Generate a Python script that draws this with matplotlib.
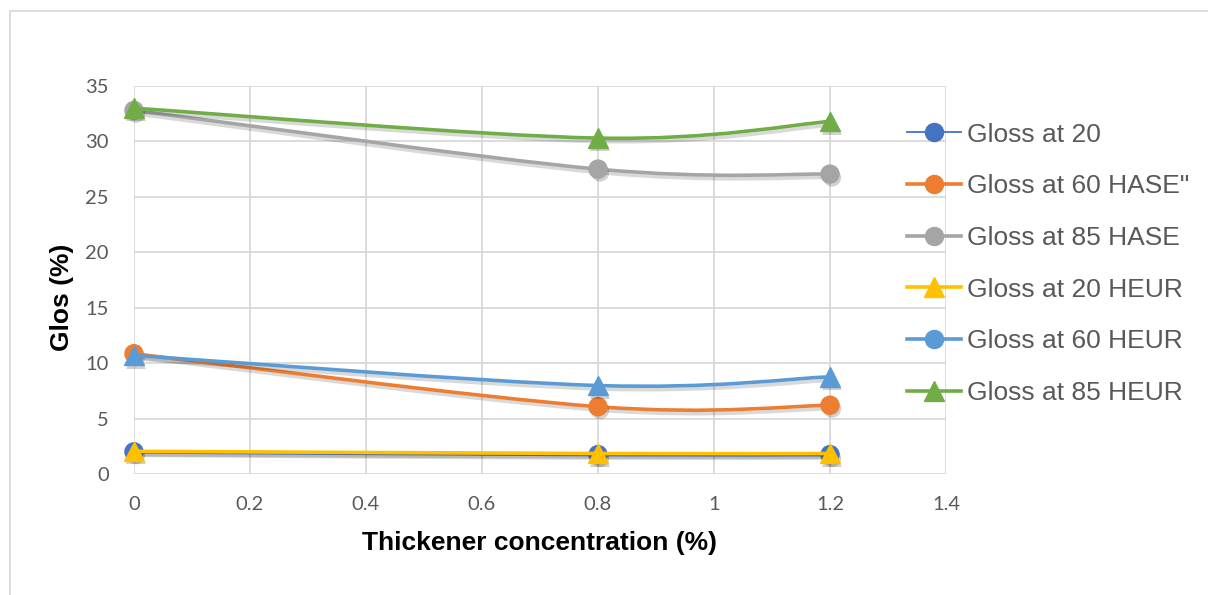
import numpy as np
import matplotlib
matplotlib.use("Agg")
import matplotlib.pyplot as plt
import matplotlib.patheffects as pe
from matplotlib.path import Path
from matplotlib.patches import PathPatch, Rectangle
from matplotlib.lines import Line2D

# thickener concentration (%)
conc = [0.0, 0.8, 1.2]

gloss_20 = [2.0, 1.75, 1.75]
gloss_60_hase = [10.85, 6.07, 6.2]
gloss_85_hase = [32.8, 27.5, 27.05]
gloss_20_heur = [2.05, 1.85, 1.85]
gloss_60_heur = [10.7, 7.98, 8.77]
gloss_85_heur = [33.0, 30.3, 31.8]

labels = ["Gloss at 20", "Gloss at 60 HASE\"", "Gloss at 85 HASE",
          "Gloss at 20 HEUR", "Gloss at 60 HEUR", "Gloss at 85 HEUR"]
series = [gloss_20, gloss_60_hase, gloss_85_hase,
          gloss_20_heur, gloss_60_heur, gloss_85_heur]
colors = ["#4472C4", "#ED7D31", "#A5A5A5", "#FFC000", "#5B9BD5", "#70AD47"]
markers = ["o", "o", "o", "^", "^", "^"]
legend_markers = ["o", "o", "o", "^", "o", "^"]

W, H = 1208, 595
fig = plt.figure(figsize=(W / 100, H / 100), dpi=100)
fig.patch.set_facecolor("white")

# chart border (top and left edges are inside the image)
fig.patches.append(Rectangle((10 / W, -0.1), 1.2, 1.1 - 11 / H,
                             transform=fig.transFigure, fill=False,
                             edgecolor="#D9D9D9", lw=1.3))

ax = fig.add_axes([134 / W, 1 - 474 / H, (946 - 134) / W, (474 - 86) / H])
ax.set_xlim(0, 1.4)
ax.set_ylim(0, 35)
ax.set_xticks(np.arange(0, 1.41, 0.2))
ax.set_yticks(range(0, 36, 5))
ax.set_xticklabels(["0", "0.2", "0.4", "0.6", "0.8", "1", "1.2", "1.4"])
ax.grid(True, color="#D9D9D9", lw=1.3)
ax.set_axisbelow(True)
for s in ax.spines.values():
    s.set_visible(False)
ax.tick_params(length=0, labelsize=14.5, labelcolor="#595959")
ax.tick_params(axis="y", pad=18)
ax.tick_params(axis="x", pad=16)
for t in ax.get_xticklabels() + ax.get_yticklabels():
    t.set_fontfamily("Lato")

line_shadow = [pe.SimpleLineShadow(offset=(1.5, -2.5), shadow_color="black", alpha=0.15),
               pe.Normal()]
marker_shadow = [pe.SimplePatchShadow(offset=(1.5, -2.5), shadow_rgbFace="black", alpha=0.18),
                 pe.Normal()]


def smooth_path(x, y):
    # Bezier segments with control points from neighbouring points
    pts = np.column_stack([x, y])
    n = len(pts)
    verts = [pts[0]]
    codes = [Path.MOVETO]
    for i in range(n - 1):
        p_prev = pts[max(i - 1, 0)]
        p_next = pts[min(i + 2, n - 1)]
        c1 = pts[i] + (pts[i + 1] - p_prev) / 6
        c2 = pts[i + 1] - (p_next - pts[i]) / 6
        verts += [c1, c2, pts[i + 1]]
        codes += [Path.CURVE4] * 3
    return Path(verts, codes)


for k, (vals, col, mk) in enumerate(zip(series, colors, markers)):
    ax.add_patch(PathPatch(smooth_path(conc, vals), fill=False, edgecolor=col,
                           lw=2.6, capstyle="round", zorder=3 + 2 * k,
                           path_effects=line_shadow))
    ax.plot(conc, vals, linestyle="none", marker=mk, color=col,
            markersize=13 if mk == "o" else 14, zorder=4 + 2 * k,
            clip_on=False, path_effects=marker_shadow)

handles = []
for k, (col, mk) in enumerate(zip(colors, legend_markers)):
    handles.append(Line2D([], [], color=col, lw=1.3 if k == 0 else 2.6,
                          marker=mk, markersize=13 if mk == "o" else 14))
fig.legend(handles, labels, loc="upper left",
           bbox_to_anchor=(896 / W, 1 - 112 / H), frameon=False,
           prop={"family": "Liberation Sans", "size": 19},
           labelcolor="#595959", handlelength=2.05, handletextpad=0.25,
           labelspacing=1.05, borderaxespad=0)

fig.text(540 / W, 1 - 543 / H, "Thickener concentration (%)", ha="center",
         va="center", fontsize=19, fontweight="bold", family="Liberation Sans")
fig.text(62 / W, 1 - 297 / H, "Glos (%)", ha="center", va="center",
         rotation=90, fontsize=19, fontweight="bold", family="Liberation Sans")

fig.savefig("out.png", dpi=100, facecolor="white")
